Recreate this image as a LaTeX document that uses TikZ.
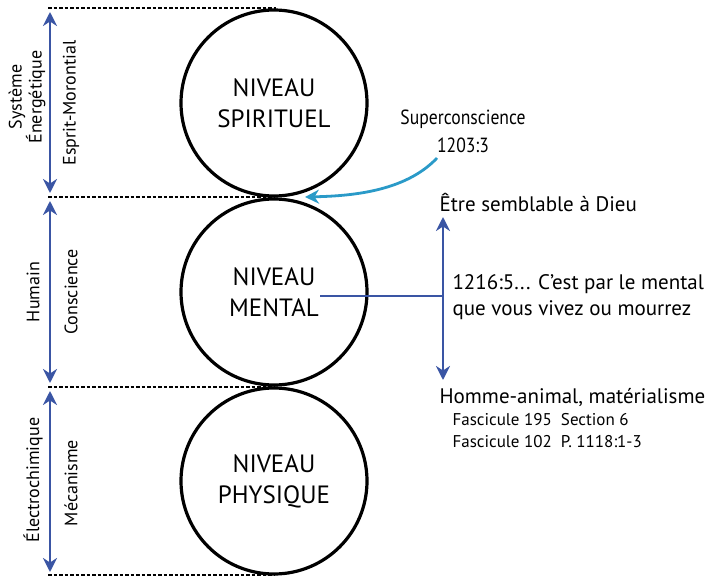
\documentclass[tikz,border=0pt]{standalone}
\usepackage{fontspec}
\setmainfont{PT Sans}
\newfontfamily\narrowfont[FakeStretch=0.86]{PT Sans}
\usepackage{tikz}
\usetikzlibrary{arrows.meta}
\tikzset{>={Stealth[length=14pt,width=14pt,inset=4.5pt]}}
\definecolor{dimblue}{HTML}{3A55A4}
\definecolor{supercyan}{HTML}{2A9AC8}
\tikzset{
	niveau/.style={draw,circle,line width=3.2pt,minimum size=186pt,align=center,font=\fontsize{25}{31}\selectfont},
	limite/.style={line width=2.6pt,dash pattern=on 3.5pt off 2pt},
	dimarrow/.style={<->,dimblue,line width=2.8pt},
	sidelabel/.style={rotate=90,align=center,font=\fontsize{18}{20}\selectfont},
	note/.style={anchor=west,align=left,font=\fontsize{21}{26}\selectfont},
}
\begin{document}
\begin{tikzpicture}[x=1pt,y=-1pt]
	\useasboundingbox (0,0) rectangle (705,576);
	% niveaux
	\node[niveau] (spirituel) at (274,103) {NIVEAU\\SPIRITUEL};
	\node[niveau] (mental) at (274,292) {NIVEAU\\MENTAL};
	\node[niveau] (physique) at (274,481) {NIVEAU\\PHYSIQUE};
	% limites
	\draw[limite] (48,8) -- (276,8);
	\draw[limite] (48,197) -- (274,197);
	\draw[limite] (48,387) -- (274,387);
	\draw[limite] (48,575) -- (274,575);
	% dimensions
	\coordinate (s1) at (50,12); \coordinate (s2) at (50,193);
	\coordinate (h1) at (50,201); \coordinate (h2) at (50,383);
	\coordinate (p1) at (50,391); \coordinate (p2) at (50,572);
	\draw[dimarrow] (s1) -- (s2);
	\draw[dimarrow] (h1) -- (h2);
	\draw[dimarrow] (p1) -- (p2);
	\node[sidelabel] (systeme) at (27,97) {Système\\Énergétique};
	\node[sidelabel] (esprit) at (71,103) {Esprit-Morontial};
	\node[sidelabel] (humain) at (33,292) {Humain};
	\node[sidelabel] (conscience) at (71,292) {Conscience};
	\node[sidelabel] (electro) at (33,480) {Électrochimique};
	\node[sidelabel] (mecanisme) at (71,483) {Mécanisme};
	% superconscience
	\node[align=center,font=\narrowfont\fontsize{20.5}{28}\selectfont] (super) at (463,131) {Superconscience\\1203:3};
	\coordinate (superend) at (305,197);
	\draw[->,supercyan,line width=2.8pt] (437,158) .. controls (405,192) and (350,196) .. (superend);
	% mental
	\coordinate (haut) at (443,217); \coordinate (bas) at (443,380);
	\coordinate (jonction) at (443,296); \coordinate (depart) at (320,296);
	\draw[dimarrow] (haut) -- (bas);
	\draw[dimblue,line width=2.8pt] (depart) -- (jonction);
	\node[note] (dieu) at (436,202) {Être semblable à Dieu};
	\node[note] (citation) at (449,297) {1216:5... C'est par le mental\\que vous vivez ou mourrez};
	\node[note] (animal) at (436,397) {Homme-animal, matérialisme};
	\node[note,font=\fontsize{17}{22}\selectfont] (fascicules) at (449,431) {Fascicule 195\ \ Section 6\\Fascicule 102\ \ P. 1118:1-3};
\end{tikzpicture}
\end{document}
